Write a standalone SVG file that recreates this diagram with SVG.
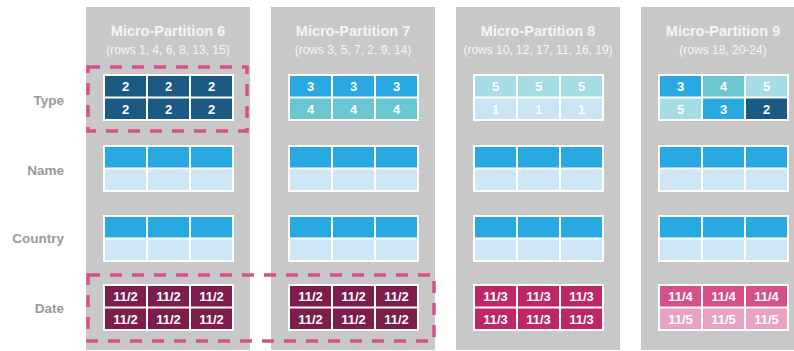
<svg xmlns="http://www.w3.org/2000/svg" width="794" height="351" viewBox="0 0 794 351">
<style>
.bg{fill:#c8c8c8}
.fr{fill:#ffffff}
.navy{fill:#1b5a82}
.blue{fill:#29a9e1}
.teal{fill:#6ac6d0}
.pteal{fill:#a6dde4}
.pblue{fill:#c9e4f4}
.lblue{fill:#cfe6f6}
.mar{fill:#7c1d4c}
.mag{fill:#bd2667}
.pink{fill:#d54f88}
.ppink{fill:#e8a2c2}
.title{font-family:"Liberation Sans",Arial,sans-serif;font-weight:bold;font-size:14.5px;fill:#f4f4f4;text-anchor:middle}
.sub{font-family:"Liberation Sans",Arial,sans-serif;font-size:12px;fill:#f4f4f4;text-anchor:middle}
.v{font-family:"Liberation Sans",Arial,sans-serif;font-weight:bold;font-size:13px;fill:#ffffff;text-anchor:middle}
.lbl{font-family:"Liberation Sans",Arial,sans-serif;font-weight:bold;font-size:13.5px;fill:#9a9a9a;text-anchor:end}
.dash{fill:none;stroke:#d6518c;stroke-width:3.5;stroke-dasharray:12 10}
</style>

<g id="row-labels">
<text class="lbl" x="64" y="105">Type</text>
<text class="lbl" x="64" y="175">Name</text>
<text class="lbl" x="64" y="243">Country</text>
<text class="lbl" x="64" y="313">Date</text>
</g>

<g id="partition-6" transform="translate(86,0)">
<rect class="bg" x="0" y="7" width="164" height="343"/>
<text class="title" x="82" y="36">Micro-Partition 6</text>
<text class="sub" x="82" y="54">(rows 1, 4, 6, 8, 13, 15)</text>
<g transform="translate(17,74)">
<rect class="fr" width="131" height="47"/>
<rect class="navy" x="2" y="2" width="41" height="20.5"/><rect class="navy" x="45" y="2" width="41" height="20.5"/><rect class="navy" x="88" y="2" width="41" height="20.5"/>
<rect class="navy" x="2" y="24.5" width="41" height="20.5"/><rect class="navy" x="45" y="24.5" width="41" height="20.5"/><rect class="navy" x="88" y="24.5" width="41" height="20.5"/>
<text class="v" x="22.5" y="17">2</text><text class="v" x="65.5" y="17">2</text><text class="v" x="108.5" y="17">2</text>
<text class="v" x="22.5" y="39.5">2</text><text class="v" x="65.5" y="39.5">2</text><text class="v" x="108.5" y="39.5">2</text>
</g>
<g transform="translate(17,145)">
<rect class="fr" width="131" height="47"/>
<rect class="blue" x="2" y="2" width="41" height="20.5"/><rect class="blue" x="45" y="2" width="41" height="20.5"/><rect class="blue" x="88" y="2" width="41" height="20.5"/>
<rect class="lblue" x="2" y="24.5" width="41" height="20.5"/><rect class="lblue" x="45" y="24.5" width="41" height="20.5"/><rect class="lblue" x="88" y="24.5" width="41" height="20.5"/>
</g>
<g transform="translate(17,215)">
<rect class="fr" width="131" height="47"/>
<rect class="blue" x="2" y="2" width="41" height="20.5"/><rect class="blue" x="45" y="2" width="41" height="20.5"/><rect class="blue" x="88" y="2" width="41" height="20.5"/>
<rect class="lblue" x="2" y="24.5" width="41" height="20.5"/><rect class="lblue" x="45" y="24.5" width="41" height="20.5"/><rect class="lblue" x="88" y="24.5" width="41" height="20.5"/>
</g>
<g transform="translate(17,284)">
<rect class="fr" width="131" height="47"/>
<rect class="mar" x="2" y="2" width="41" height="20.5"/><rect class="mar" x="45" y="2" width="41" height="20.5"/><rect class="mar" x="88" y="2" width="41" height="20.5"/>
<rect class="mar" x="2" y="24.5" width="41" height="20.5"/><rect class="mar" x="45" y="24.5" width="41" height="20.5"/><rect class="mar" x="88" y="24.5" width="41" height="20.5"/>
<text class="v" x="22.5" y="17">11/2</text><text class="v" x="65.5" y="17">11/2</text><text class="v" x="108.5" y="17">11/2</text>
<text class="v" x="22.5" y="39.5">11/2</text><text class="v" x="65.5" y="39.5">11/2</text><text class="v" x="108.5" y="39.5">11/2</text>
</g>
</g>

<g id="partition-7" transform="translate(271,0)">
<rect class="bg" x="0" y="7" width="164" height="343"/>
<text class="title" x="82" y="36">Micro-Partition 7</text>
<text class="sub" x="82" y="54">(rows 3, 5, 7, 2, 9, 14)</text>
<g transform="translate(17,74)">
<rect class="fr" width="131" height="47"/>
<rect class="blue" x="2" y="2" width="41" height="20.5"/><rect class="blue" x="45" y="2" width="41" height="20.5"/><rect class="blue" x="88" y="2" width="41" height="20.5"/>
<rect class="teal" x="2" y="24.5" width="41" height="20.5"/><rect class="teal" x="45" y="24.5" width="41" height="20.5"/><rect class="teal" x="88" y="24.5" width="41" height="20.5"/>
<text class="v" x="22.5" y="17">3</text><text class="v" x="65.5" y="17">3</text><text class="v" x="108.5" y="17">3</text>
<text class="v" x="22.5" y="39.5">4</text><text class="v" x="65.5" y="39.5">4</text><text class="v" x="108.5" y="39.5">4</text>
</g>
<g transform="translate(17,145)">
<rect class="fr" width="131" height="47"/>
<rect class="blue" x="2" y="2" width="41" height="20.5"/><rect class="blue" x="45" y="2" width="41" height="20.5"/><rect class="blue" x="88" y="2" width="41" height="20.5"/>
<rect class="lblue" x="2" y="24.5" width="41" height="20.5"/><rect class="lblue" x="45" y="24.5" width="41" height="20.5"/><rect class="lblue" x="88" y="24.5" width="41" height="20.5"/>
</g>
<g transform="translate(17,215)">
<rect class="fr" width="131" height="47"/>
<rect class="blue" x="2" y="2" width="41" height="20.5"/><rect class="blue" x="45" y="2" width="41" height="20.5"/><rect class="blue" x="88" y="2" width="41" height="20.5"/>
<rect class="lblue" x="2" y="24.5" width="41" height="20.5"/><rect class="lblue" x="45" y="24.5" width="41" height="20.5"/><rect class="lblue" x="88" y="24.5" width="41" height="20.5"/>
</g>
<g transform="translate(17,284)">
<rect class="fr" width="131" height="47"/>
<rect class="mar" x="2" y="2" width="41" height="20.5"/><rect class="mar" x="45" y="2" width="41" height="20.5"/><rect class="mar" x="88" y="2" width="41" height="20.5"/>
<rect class="mar" x="2" y="24.5" width="41" height="20.5"/><rect class="mar" x="45" y="24.5" width="41" height="20.5"/><rect class="mar" x="88" y="24.5" width="41" height="20.5"/>
<text class="v" x="22.5" y="17">11/2</text><text class="v" x="65.5" y="17">11/2</text><text class="v" x="108.5" y="17">11/2</text>
<text class="v" x="22.5" y="39.5">11/2</text><text class="v" x="65.5" y="39.5">11/2</text><text class="v" x="108.5" y="39.5">11/2</text>
</g>
</g>

<g id="partition-8" transform="translate(456,0)">
<rect class="bg" x="0" y="7" width="164" height="343"/>
<text class="title" x="82" y="36">Micro-Partition 8</text>
<text class="sub" x="82" y="54">(rows 10, 12, 17, 11, 16, 19)</text>
<g transform="translate(17,74)">
<rect class="fr" width="131" height="47"/>
<rect class="pteal" x="2" y="2" width="41" height="20.5"/><rect class="pteal" x="45" y="2" width="41" height="20.5"/><rect class="pteal" x="88" y="2" width="41" height="20.5"/>
<rect class="pblue" x="2" y="24.5" width="41" height="20.5"/><rect class="pblue" x="45" y="24.5" width="41" height="20.5"/><rect class="pblue" x="88" y="24.5" width="41" height="20.5"/>
<text class="v" x="22.5" y="17">5</text><text class="v" x="65.5" y="17">5</text><text class="v" x="108.5" y="17">5</text>
<text class="v" x="22.5" y="39.5">1</text><text class="v" x="65.5" y="39.5">1</text><text class="v" x="108.5" y="39.5">1</text>
</g>
<g transform="translate(17,145)">
<rect class="fr" width="131" height="47"/>
<rect class="blue" x="2" y="2" width="41" height="20.5"/><rect class="blue" x="45" y="2" width="41" height="20.5"/><rect class="blue" x="88" y="2" width="41" height="20.5"/>
<rect class="lblue" x="2" y="24.5" width="41" height="20.5"/><rect class="lblue" x="45" y="24.5" width="41" height="20.5"/><rect class="lblue" x="88" y="24.5" width="41" height="20.5"/>
</g>
<g transform="translate(17,215)">
<rect class="fr" width="131" height="47"/>
<rect class="blue" x="2" y="2" width="41" height="20.5"/><rect class="blue" x="45" y="2" width="41" height="20.5"/><rect class="blue" x="88" y="2" width="41" height="20.5"/>
<rect class="lblue" x="2" y="24.5" width="41" height="20.5"/><rect class="lblue" x="45" y="24.5" width="41" height="20.5"/><rect class="lblue" x="88" y="24.5" width="41" height="20.5"/>
</g>
<g transform="translate(17,284)">
<rect class="fr" width="131" height="47"/>
<rect class="mag" x="2" y="2" width="41" height="20.5"/><rect class="mag" x="45" y="2" width="41" height="20.5"/><rect class="mag" x="88" y="2" width="41" height="20.5"/>
<rect class="mag" x="2" y="24.5" width="41" height="20.5"/><rect class="mag" x="45" y="24.5" width="41" height="20.5"/><rect class="mag" x="88" y="24.5" width="41" height="20.5"/>
<text class="v" x="22.5" y="17">11/3</text><text class="v" x="65.5" y="17">11/3</text><text class="v" x="108.5" y="17">11/3</text>
<text class="v" x="22.5" y="39.5">11/3</text><text class="v" x="65.5" y="39.5">11/3</text><text class="v" x="108.5" y="39.5">11/3</text>
</g>
</g>

<g id="partition-9" transform="translate(641,0)">
<rect class="bg" x="0" y="7" width="164" height="343"/>
<text class="title" x="82" y="36">Micro-Partition 9</text>
<text class="sub" x="82" y="54">(rows 18, 20-24)</text>
<g transform="translate(17,74)">
<rect class="fr" width="131" height="47"/>
<rect class="blue" x="2" y="2" width="41" height="20.5"/><rect class="teal" x="45" y="2" width="41" height="20.5"/><rect class="pteal" x="88" y="2" width="41" height="20.5"/>
<rect class="pteal" x="2" y="24.5" width="41" height="20.5"/><rect class="blue" x="45" y="24.5" width="41" height="20.5"/><rect class="navy" x="88" y="24.5" width="41" height="20.5"/>
<text class="v" x="22.5" y="17">3</text><text class="v" x="65.5" y="17">4</text><text class="v" x="108.5" y="17">5</text>
<text class="v" x="22.5" y="39.5">5</text><text class="v" x="65.5" y="39.5">3</text><text class="v" x="108.5" y="39.5">2</text>
</g>
<g transform="translate(17,145)">
<rect class="fr" width="131" height="47"/>
<rect class="blue" x="2" y="2" width="41" height="20.5"/><rect class="blue" x="45" y="2" width="41" height="20.5"/><rect class="blue" x="88" y="2" width="41" height="20.5"/>
<rect class="lblue" x="2" y="24.5" width="41" height="20.5"/><rect class="lblue" x="45" y="24.5" width="41" height="20.5"/><rect class="lblue" x="88" y="24.5" width="41" height="20.5"/>
</g>
<g transform="translate(17,215)">
<rect class="fr" width="131" height="47"/>
<rect class="blue" x="2" y="2" width="41" height="20.5"/><rect class="blue" x="45" y="2" width="41" height="20.5"/><rect class="blue" x="88" y="2" width="41" height="20.5"/>
<rect class="lblue" x="2" y="24.5" width="41" height="20.5"/><rect class="lblue" x="45" y="24.5" width="41" height="20.5"/><rect class="lblue" x="88" y="24.5" width="41" height="20.5"/>
</g>
<g transform="translate(17,284)">
<rect class="fr" width="131" height="47"/>
<rect class="pink" x="2" y="2" width="41" height="20.5"/><rect class="pink" x="45" y="2" width="41" height="20.5"/><rect class="pink" x="88" y="2" width="41" height="20.5"/>
<rect class="ppink" x="2" y="24.5" width="41" height="20.5"/><rect class="ppink" x="45" y="24.5" width="41" height="20.5"/><rect class="ppink" x="88" y="24.5" width="41" height="20.5"/>
<text class="v" x="22.5" y="17">11/4</text><text class="v" x="65.5" y="17">11/4</text><text class="v" x="108.5" y="17">11/4</text>
<text class="v" x="22.5" y="39.5">11/5</text><text class="v" x="65.5" y="39.5">11/5</text><text class="v" x="108.5" y="39.5">11/5</text>
</g>
</g>

<g id="highlights">
<rect class="dash" x="88" y="67" width="159" height="64"/>
<rect class="dash" x="88" y="275" width="346" height="66"/>
</g>
</svg>
